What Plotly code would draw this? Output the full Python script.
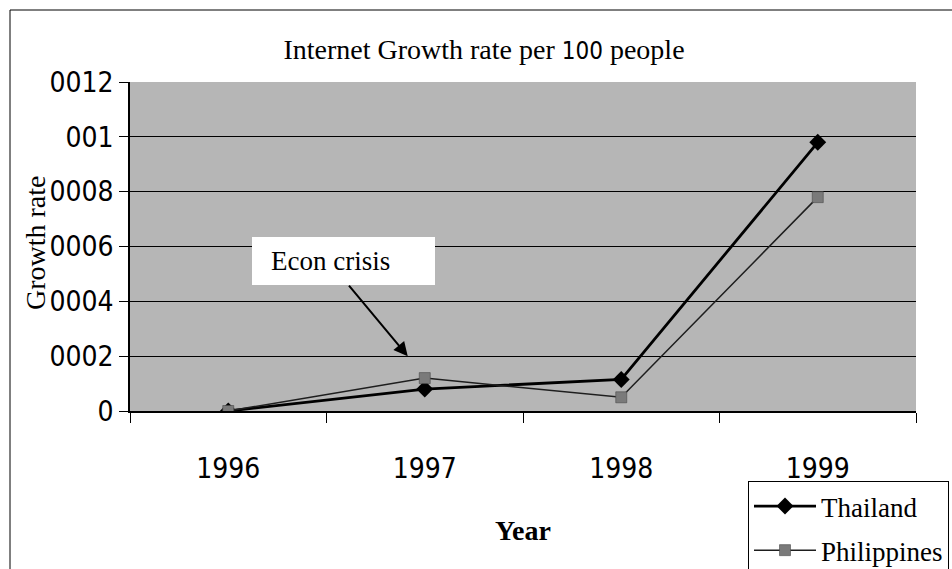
import plotly.graph_objects as go

years = ["1996", "1997", "1998", "1999"]
thailand = [0.0, 0.00008, 0.000115, 0.00098]
philippines = [0.0, 0.00012, 0.00005, 0.00078]
ytick_vals = [0, 0.0002, 0.0004, 0.0006, 0.0008, 0.001, 0.0012]
ytick_text = ["0", "0002", "0004", "0006", "0008", "001", "0012"]

serif = "Liberation Serif, Times New Roman, serif"
sans = "DejaVu Sans Condensed, DejaVu Sans, Tahoma, sans-serif"

fig = go.Figure()
fig.add_trace(go.Scatter(
    x=years, y=thailand, name="Thailand", mode="lines+markers",
    legendgroup="a",
    line=dict(color="black", width=2.8),
    marker=dict(symbol="diamond", size=13, color="black"),
))
fig.add_trace(go.Scatter(
    x=years, y=philippines, name="Philippines", mode="lines+markers",
    legendgroup="b",
    line=dict(color="#1e1e1e", width=1.5),
    marker=dict(symbol="square", size=11, color="#7a7a7a", line=dict(color="#4a4a4a", width=0.6)),
))

W, H = 952, 569
L, R, T, B = 130, 36, 82, 158
pw, ph = W - L - R, H - T - B

def px(x):
    return (x - L) / pw

def py(y):
    return (H - B - y) / ph

fig.update_layout(
    width=W, height=H,
    margin=dict(l=L, r=R, t=T, b=B, autoexpand=False),
    paper_bgcolor="white",
    plot_bgcolor="#b6b6b6",
    title=dict(
        text='Internet Growth rate per <span style="font-family:DejaVu Sans Condensed;font-size:24px">100</span> people',
        x=484 / W, xanchor="center", xref="container",
        y=1 - 49 / H, yanchor="middle", yref="container",
        font=dict(family=serif, size=28, color="black"),
    ),
    xaxis=dict(
        type="category", range=[-0.5, 3.5], automargin=False,
        tickson="boundaries", ticks="outside", ticklen=10, tickcolor="black",
        showline=True, linecolor="black", linewidth=1.5,
        showgrid=False, zeroline=False,
        tickfont=dict(family=sans, size=28, color="black"),
        ticklabelstandoff=32,
    ),
    yaxis=dict(
        range=[0, 0.0012], automargin=False,
        tickmode="array", tickvals=ytick_vals, ticktext=ytick_text,
        ticks="outside", ticklen=9, tickcolor="black",
        showline=True, linecolor="black", linewidth=1.5,
        showgrid=True, gridcolor="black", gridwidth=1,
        zeroline=False,
        tickfont=dict(family=sans, size=28, color="black"),
    ),
    showlegend=True,
    legend=dict(
        x=px(748), y=py(481), xanchor="left", yanchor="top",
        bgcolor="white", bordercolor="black", borderwidth=1,
        font=dict(family=serif, size=27, color="black"),
        itemwidth=62, traceorder="grouped", tracegroupgap=6,
    ),
    annotations=[
        dict(text="Growth rate", xref="paper", yref="paper",
             x=px(35), y=py(243), xanchor="center", yanchor="middle",
             showarrow=False, textangle=-90,
             font=dict(family=serif, size=28, color="black")),
        dict(text="<b>Year</b>", xref="paper", yref="paper",
             x=px(523), y=py(530), xanchor="center", yanchor="middle",
             showarrow=False,
             font=dict(family=serif, size=28, color="black")),
        dict(text="Econ crisis", xref="paper", yref="paper",
             x=px(330), y=py(261), xanchor="center", yanchor="middle",
             showarrow=False,
             font=dict(family=serif, size=27, color="black")),
        dict(text="", xref="x", yref="y",
             x=1 - 17 / (pw / 4), y=0.0002,
             ax=-60, ay=-72, showarrow=True,
             arrowhead=2, arrowsize=1.4, arrowwidth=2, arrowcolor="black"),
    ],
    shapes=[
        dict(type="rect", xref="paper", yref="paper",
             x0=px(10), x1=px(990), y0=py(10), y1=py(620),
             line=dict(color="black", width=1), layer="below"),
        dict(type="rect", xref="paper", yref="paper",
             x0=px(252), x1=px(435), y0=py(237), y1=py(285),
             fillcolor="white", line=dict(width=0), layer="above"),
    ],
)

fig.write_html("out.html")
